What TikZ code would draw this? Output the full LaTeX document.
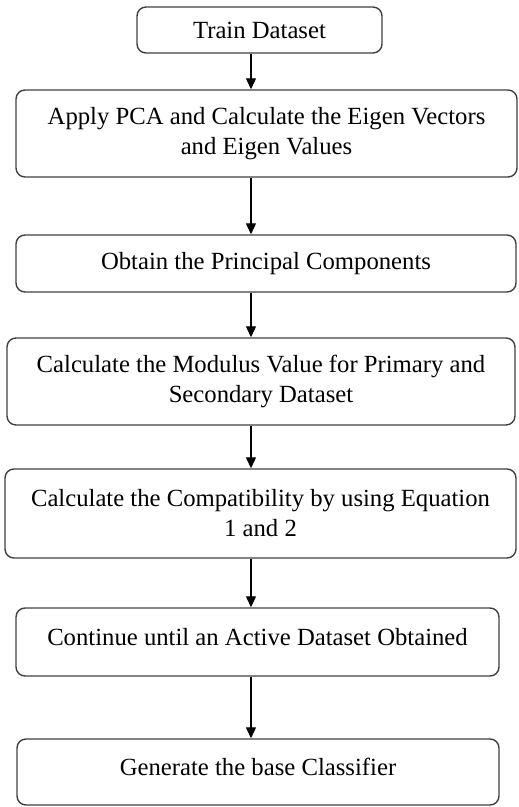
\documentclass[tikz,border=0pt]{standalone}
\usepackage{fontspec}
\setmainfont{Liberation Serif}
\usetikzlibrary{arrows.meta}

\begin{document}
\begin{tikzpicture}[x=1pt, y=-1pt, >={Triangle[width=10pt,length=11pt]},
  stepbox/.style={draw=black!75, line width=1.4pt, rounded corners=9pt,
    align=center, inner sep=0pt, font=\fontsize{24.7}{30}\selectfont},
  highbox/.style={stepbox, text depth=10pt},
  flow/.style={->, line width=1.2pt}]
  \useasboundingbox (0,0) rectangle (519,807);
  \coordinate (axis) at (251,0);
  % boxes
  \node[stepbox, minimum width=245pt, minimum height=46pt] (train) at (259.5,30)
    {Train Dataset};
  \node[stepbox, minimum width=501pt, minimum height=87pt] (pca) at (266.5,133.5)
    {Apply PCA and Calculate the Eigen Vectors\\and Eigen Values};
  \node[stepbox, minimum width=500pt, minimum height=57pt] (princ) at (266,263.5)
    {Obtain the Principal Components};
  \node[stepbox, minimum width=508pt, minimum height=87pt] (modulus) at (261,381.5)
    {Calculate the Modulus Value for Primary and\\Secondary Dataset};
  \node[stepbox, minimum width=511pt, minimum height=89pt] (compat) at (260.5,513.5)
    {Calculate the Compatibility by using Equation\\1 and 2};
  \node[highbox, minimum width=483pt, minimum height=68pt] (active) at (257.5,642)
    {Continue until an Active Dataset Obtained};
  \node[highbox, minimum width=482pt, minimum height=66pt] (classif) at (258,772)
    {Generate the base Classifier};
  % arrows
  \draw[flow] (train.south -| axis) -- (pca.north -| axis);
  \draw[flow] (pca.south -| axis) -- (princ.north -| axis);
  \draw[flow] (princ.south -| axis) -- (modulus.north -| axis);
  \draw[flow] (modulus.south -| axis) -- (compat.north -| axis);
  \draw[flow] (compat.south -| axis) -- (active.north -| axis);
  \draw[flow] (active.south -| axis) -- (classif.north -| axis);
\end{tikzpicture}
\end{document}
